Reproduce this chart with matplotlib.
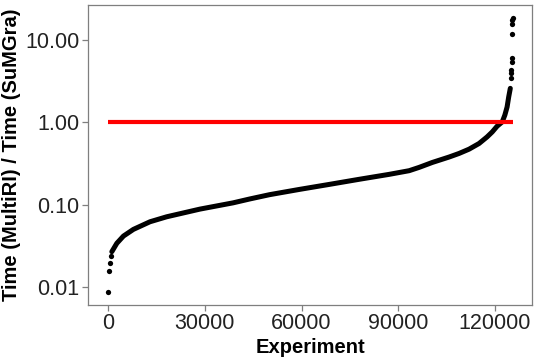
import matplotlib
matplotlib.use('Agg')
import matplotlib.pyplot as plt
from matplotlib.ticker import FixedLocator, FixedFormatter

plt.rcParams['font.family'] = ['Liberation Sans', 'DejaVu Sans']

# sorted ratios (experiment index, ratio)
head_x = [0, 300, 500, 800]
head_y = [0.0087, 0.0156, 0.0195, 0.0238]

curve_x = [1140, 2690, 4750, 7830, 12990, 18150, 28450, 38760, 43920,
           50100, 59390, 68660, 77940, 87220, 93400, 96500, 100600, 105800,
           108900, 112000, 115100, 117600, 119200, 120700, 122300, 123100,
           123800, 124300, 124800]
curve_y = [0.0268, 0.0339, 0.0415, 0.0500, 0.0619, 0.0711, 0.0881, 0.105,
           0.117, 0.132, 0.153, 0.176, 0.203, 0.233, 0.258, 0.283, 0.325,
           0.378, 0.418, 0.471, 0.552, 0.664, 0.763, 0.895, 1.01, 1.22,
           1.53, 2.03, 2.58]

tail_x = [125000, 125050, 125100, 125200, 125250, 125350, 125400, 125450, 125500]
tail_y = [3.41, 3.93, 4.27, 5.34, 5.97, 11.7, 15.8, 17.2, 18.7]

ref_x = [0, 125500]
ref_y = [1.0, 1.0]

yticks = [0.01, 0.1, 1, 10]
ytick_labels = ['0.01', '0.10', '1.00', '10.00']
xticks = [0, 30000, 60000, 90000, 120000]

fig = plt.figure(figsize=(5.4, 3.6), dpi=100)
ax = fig.add_axes([0.163, 0.153, 0.822, 0.833])

ax.plot(curve_x, curve_y, color='black', lw=3.6, solid_capstyle='round',
        solid_joinstyle='round', zorder=2)
ax.plot(head_x, head_y, 'o', color='black', ms=3.8, mew=0, zorder=2)
ax.plot(tail_x, tail_y, 'o', color='black', ms=3.8, mew=0, zorder=2)
ax.plot(ref_x, ref_y, color='#FF0000', lw=3, solid_capstyle='butt', zorder=3)

ax.set_yscale('log')
ax.set_ylim(0.00605, 26.5)
ax.set_xlim(-6250, 131500)
ax.yaxis.set_major_locator(FixedLocator(yticks))
ax.yaxis.set_major_formatter(FixedFormatter(ytick_labels))
ax.yaxis.set_minor_locator(FixedLocator([]))
ax.set_xticks(xticks)
ax.set_xticklabels([str(t) for t in xticks])

for s in ax.spines.values():
    s.set_color('#7F7F7F')
    s.set_linewidth(0.9)
ax.tick_params(axis='both', which='major', length=4, width=0.9, color='#7F7F7F',
               labelsize=15.5, labelcolor='#222222', pad=2)

ax.set_xlabel('Experiment', fontsize=14.5, fontweight='bold', labelpad=3)
ax.set_ylabel('Time (MultiRI) / Time (SuMGra)', fontsize=14.5, fontweight='bold', labelpad=3)

fig.savefig('out.png', dpi=100)
